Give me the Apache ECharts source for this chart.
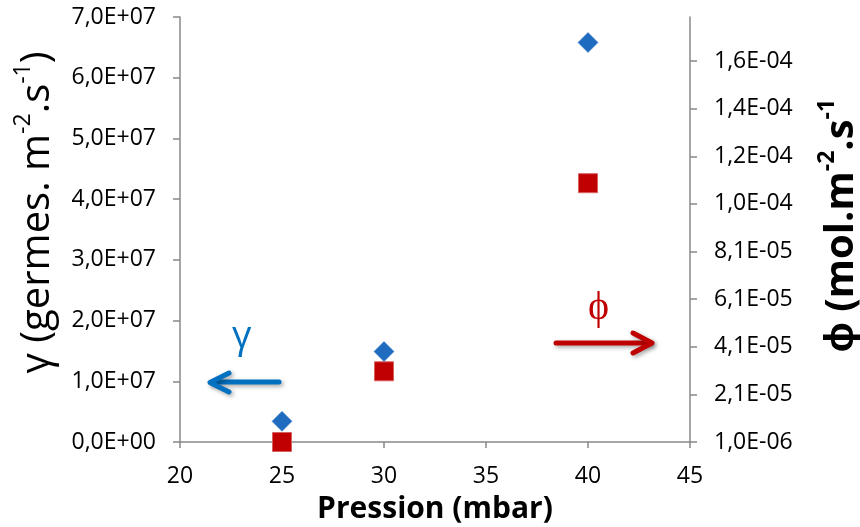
<!DOCTYPE html>
<html>
<head>
<meta charset="utf-8">
<script src="https://cdn.jsdelivr.net/npm/echarts@6/dist/echarts.min.js"></script>
<style>
html,body{margin:0;padding:0;background:#fff;}
#c{width:860px;height:527px;}
</style>
</head>
<body>
<div id="c"></div>
<script>
const pressure = [25, 30, 40];
const gamma = [3.4e6, 1.49e7, 6.58e7];
const phi = [1.0e-6, 3.07e-5, 1.097e-4];
const xTicks = [20, 25, 30, 35, 40, 45];
const leftTicks = [0, 1e7, 2e7, 3e7, 4e7, 5e7, 6e7, 7e7];
const rightTicks = [0.000001, 0.000021, 0.000041, 0.000061, 0.000081, 0.000101, 0.000121, 0.000141, 0.000161];

function sci(v) {
  let s = Number(v).toExponential(1);
  let [m, e] = s.split('e');
  let sign = e[0] === '-' ? '-' : '+';
  let d = e.replace(/^[+-]/, '');
  if (d.length < 2) d = '0' + d;
  return m.replace('.', ',') + 'E' + sign + d;
}

const FONT = '"Open Sans", sans-serif';
const axisGray = '#888888';

const chart = echarts.init(document.getElementById('c'), null, {renderer: 'canvas'});
chart.setOption({
  animation: false,
  backgroundColor: '#ffffff',
  grid: {left: 180, right: 170, top: 17, bottom: 85, outerBoundsMode: 'none'},
  xAxis: {
    type: 'value', min: xTicks[0], max: xTicks[xTicks.length - 1], interval: 5,
    name: 'Pression (mbar)', nameLocation: 'middle', nameGap: 52,
    nameTextStyle: {fontFamily: FONT, fontWeight: 'bold', fontSize: 30, color: '#000'},
    axisLine: {show: true, lineStyle: {color: axisGray, width: 1.5}},
    axisTick: {show: true, inside: false, length: 6, lineStyle: {color: axisGray, width: 1.5}},
    axisLabel: {fontFamily: FONT, fontSize: 23, color: '#000', margin: 23},
    splitLine: {show: false}
  },
  yAxis: [
    {
      type: 'value', position: 'left', min: leftTicks[0], max: leftTicks[leftTicks.length - 1], interval: 1e7,
      name: '{n|γ (germes. m}{s|-2}{n|.s}{s|-1}{n|)}',
      nameLocation: 'middle', nameGap: 122, nameRotate: 90,
      nameTextStyle: {
        fontFamily: FONT, color: '#000', padding: [0, 0, 0, 34],
        rich: {
          n: {fontFamily: FONT, fontSize: 40, color: '#000', verticalAlign: 'bottom', lineHeight: 46},
          s: {fontFamily: FONT, fontSize: 23, color: '#000', verticalAlign: 'top', lineHeight: 46, padding: [0, 0, 22, 0]}
        }
      },
      axisLine: {show: true, lineStyle: {color: axisGray, width: 1.5}},
      axisTick: {show: true, inside: false, length: 7, lineStyle: {color: axisGray, width: 1.5}},
      axisLabel: {fontFamily: FONT, fontSize: 23, color: '#000', margin: 24, formatter: sci},
      splitLine: {show: false}
    },
    {
      type: 'value', position: 'right', min: rightTicks[0], max: 0.0001795, interval: 0.00002,
      name: '{n|ϕ (mol.m}{s|-2}{n|.s}{s|-1}',
      nameLocation: 'middle', nameGap: 126, nameRotate: 90,
      nameTextStyle: {
        fontFamily: FONT, color: '#000', padding: [0, 0, 0, 8],
        rich: {
          n: {fontFamily: FONT, fontWeight: 'bold', fontSize: 40, color: '#000', verticalAlign: 'bottom', lineHeight: 46},
          s: {fontFamily: FONT, fontWeight: 'bold', fontSize: 23, color: '#000', verticalAlign: 'top', lineHeight: 46, padding: [0, 0, 22, 0]}
        }
      },
      axisLine: {show: true, lineStyle: {color: axisGray, width: 1.5}},
      axisTick: {show: true, inside: false, length: 7, lineStyle: {color: axisGray, width: 1.5}, customValues: rightTicks},
      axisLabel: {fontFamily: FONT, fontSize: 23, color: '#000', margin: 24, formatter: sci, customValues: rightTicks},
      splitLine: {show: false}
    }
  ],
  series: [
    {
      name: 'γ', type: 'scatter', yAxisIndex: 0,
      symbol: 'diamond', symbolSize: [20, 20],
      itemStyle: {color: '#1F6BBF', borderColor: '#3A7CC8', borderWidth: 0.5, opacity: 1},
      data: pressure.map((p, i) => [p, gamma[i]]),
      z: 3
    },
    {
      name: 'ϕ', type: 'scatter', yAxisIndex: 1,
      symbol: 'rect', symbolSize: [19, 19],
      itemStyle: {color: '#C00000', borderColor: '#D86060', borderWidth: 1, opacity: 1},
      data: pressure.map((p, i) => [p, phi[i]]),
      z: 2
    }
  ],
  graphic: [
    {type: 'text', left: 232, top: 318, style: {text: 'γ', fontFamily: FONT, fontSize: 38, fill: '#0070C0'}},
    {type: 'line', shape: {x1: 279, y1: 382, x2: 212, y2: 382},
      style: {stroke: '#0070C0', lineWidth: 5, lineCap: 'round', shadowBlur: 4, shadowColor: 'rgba(0,0,0,0.35)', shadowOffsetX: 2, shadowOffsetY: 2}},
    {type: 'polyline', shape: {points: [[229, 373], [210, 382.5], [229, 392]]},
      style: {stroke: '#0070C0', lineWidth: 5, lineCap: 'round', lineJoin: 'round', fill: null, shadowBlur: 4, shadowColor: 'rgba(0,0,0,0.35)', shadowOffsetX: 2, shadowOffsetY: 2}},
    {type: 'text', left: 588, top: 288, style: {text: 'ϕ', fontFamily: '"Liberation Serif", "DejaVu Serif", serif', fontSize: 40, fill: '#C00000'}},
    {type: 'line', shape: {x1: 556, y1: 343, x2: 650, y2: 343},
      style: {stroke: '#C00000', lineWidth: 5, lineCap: 'round', shadowBlur: 4, shadowColor: 'rgba(0,0,0,0.35)', shadowOffsetX: 2, shadowOffsetY: 2}},
    {type: 'polyline', shape: {points: [[633, 333], [652, 343], [633, 353]]},
      style: {stroke: '#C00000', lineWidth: 5, lineCap: 'round', lineJoin: 'round', fill: null, shadowBlur: 4, shadowColor: 'rgba(0,0,0,0.35)', shadowOffsetX: 2, shadowOffsetY: 2}}
  ]
});
</script>
</body>
</html>
